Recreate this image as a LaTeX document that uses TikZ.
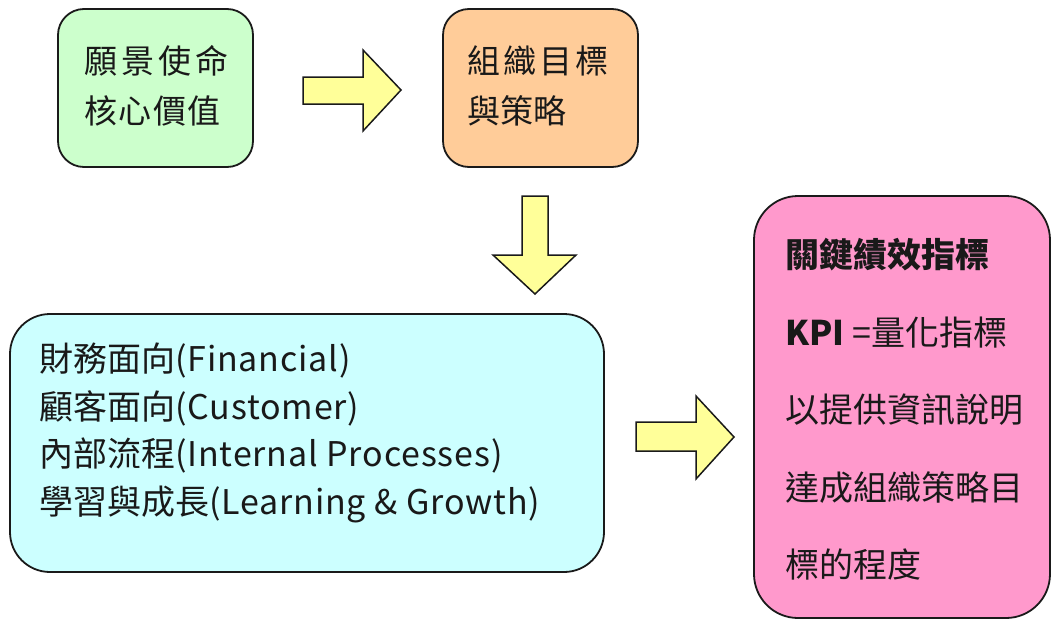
\documentclass[tikz,border=0pt]{standalone}
\usepackage{fontspec}
\setmainfont{Noto Sans CJK TC}
\newcommand\latpart[1]{{\addfontfeature{LetterSpace=2.5}#1}}
\definecolor{boxgreen}{HTML}{CCFFCC}
\definecolor{boxorange}{HTML}{FFCC99}
\definecolor{boxcyan}{HTML}{CCFFFF}
\definecolor{boxpink}{HTML}{FF99CC}
\definecolor{arrowyellow}{HTML}{FFFF99}
\definecolor{edge}{HTML}{1A1A1A}
\begin{document}
\begin{tikzpicture}[x=1pt,y=-1pt,
  card/.style={draw=edge,line width=1.8pt,inner sep=0pt},
  txt/.style={inner sep=0pt,align=left,anchor=north west,text=black!90},
  blockarrow/.style={draw=edge,line width=1.5pt,fill=arrowyellow,line join=miter}]
\useasboundingbox (0,0) rectangle (1053,621);
% boxes
\path[card,fill=boxgreen,rounded corners=26pt] (58,9) rectangle (253,167);
\node[inner sep=0pt] (green) at (155.5,88) {};
\path[card,fill=boxorange,rounded corners=26pt] (443,9) rectangle (638,167);
\node[inner sep=0pt] (orange) at (540.5,88) {};
\path[card,fill=boxcyan,rounded corners=40pt] (10,314) rectangle (604,572);
\node[inner sep=0pt] (cyan) at (307,443) {};
\path[card,fill=boxpink,rounded corners=44pt] (754,196) rectangle (1050,618);
\node[inner sep=0pt] (pink) at (902,407) {};
% texts
\node[txt,font=\fontsize{33}{50}\selectfont] (greentext) at (84,45)
  {願\kern4pt 景\kern4pt 使\kern4pt 命\\核\kern1.5pt 心\kern1.5pt 價\kern1.5pt 值};
\node[txt,font=\fontsize{33}{50}\selectfont] (orangetext) at (467,45)
  {組\kern3pt 織\kern3pt 目\kern3pt 標\\與策略};
\node[txt,font=\fontsize{34}{47.5}\selectfont] (cyantext) at (39,343)
  {財務面向\latpart{(Financial)}\\顧客面向\latpart{(Customer)}\\內部流程\latpart{(Internal Processes)}\\學習與成長\latpart{(Learning \& Growth)}};
\node[txt,font=\fontsize{34}{77.5}\selectfont] (pinktext) at (785,238)
  {\textbf{關鍵績效指標}\\\textbf{KPI} =量化指標\\以提供資訊說明\\達成組織策略目\\標的程度};
% block arrows
\draw[blockarrow] (303,77) -- (363,77) -- (363,50) -- (401,90) -- (363,131) -- (363,104) -- (303,104) -- cycle;
\draw[blockarrow] (522,196) -- (548,196) -- (548,255) -- (576,255) -- (535,294) -- (493,255) -- (522,255) -- cycle;
\draw[blockarrow] (636,422) -- (696,422) -- (696,396) -- (734,437) -- (696,479) -- (696,451) -- (636,451) -- cycle;
\end{tikzpicture}
\end{document}
